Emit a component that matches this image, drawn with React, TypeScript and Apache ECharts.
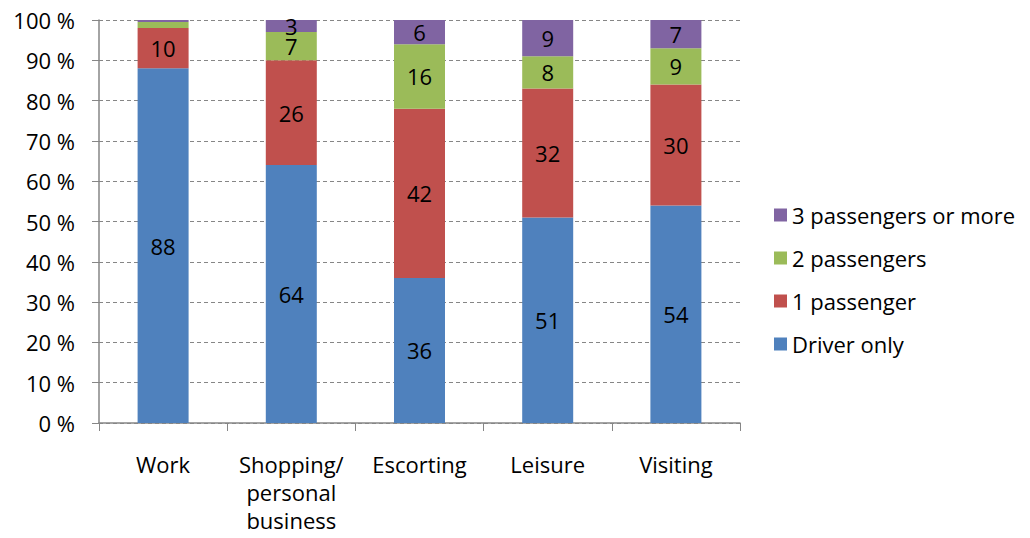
import React, { useEffect, useRef } from "react";
import * as echarts from "echarts";

const categories = ["Work", "Shopping/\npersonal\nbusiness", "Escorting", "Leisure", "Visiting"];
const driverOnly = [88, 64, 36, 51, 54];
const onePassenger = [10, 26, 42, 32, 30];
const twoPassengers = [1.5, 7, 16, 8, 9];
const threePlus = [0.5, 3, 6, 9, 7];
const legendOrder = ["3 passengers or more", "2 passengers", "1 passenger", "Driver only"];

const FONT = "'Open Sans', 'Noto Sans', sans-serif";
const FS = 22;

export default function App() {
  const ref = useRef<HTMLDivElement>(null);
  useEffect(() => {
    if (!ref.current) return;
    const chart = echarts.init(ref.current, undefined, { renderer: "svg" });
    const label = {
      show: true,
      position: "inside",
      color: "#000",
      fontSize: FS,
      lineHeight: 19,
      fontFamily: FONT,
      formatter: (p: any) => (p.value >= 2 ? String(p.value) : ""),
    };
    const mk = (name: string, data: number[], color: string) => ({
      name,
      type: "bar",
      stack: "total",
      data,
      barWidth: 51,
      itemStyle: { color },
      label,
    });
    chart.setOption({
      animation: false,
      textStyle: { fontFamily: FONT },
      grid: {
        left: 99,
        right: 290,
        top: 20,
        bottom: 115,
        containLabel: false,
        outerBoundsMode: "none",
      },
      legend: {
        data: legendOrder,
        orient: "vertical",
        left: 769,
        top: 199,
        itemWidth: 13,
        itemHeight: 13,
        itemGap: 21,
        icon: "rect",
        textStyle: { fontSize: FS, color: "#000", fontFamily: FONT },
      },
      xAxis: {
        type: "category",
        data: categories,
        axisLine: { lineStyle: { color: "#868686", width: 1.5 } },
        axisTick: { show: true, length: 8, lineStyle: { color: "#868686" } },
        axisLabel: {
          color: "#000",
          fontSize: FS,
          fontFamily: FONT,
          margin: 27,
          lineHeight: 28,
          interval: 0,
        },
      },
      yAxis: {
        type: "value",
        min: 0,
        max: 100,
        interval: 10,
        axisLine: { show: true, lineStyle: { color: "#868686", width: 1.5 } },
        axisTick: { show: true, length: 7, lineStyle: { color: "#868686" } },
        splitLine: { show: true, lineStyle: { color: "#868686", type: [4, 3], width: 1 } },
        axisLabel: {
          color: "#000",
          fontSize: FS,
          fontFamily: FONT,
          margin: 24,
          formatter: (v: number) => `${v} %`,
        },
      },
      series: [
        mk("Driver only", driverOnly, "#4F81BD"),
        mk("1 passenger", onePassenger, "#C0504D"),
        mk("2 passengers", twoPassengers, "#9BBB59"),
        mk("3 passengers or more", threePlus, "#8064A2"),
      ],
    });
    return () => chart.dispose();
  }, []);
  return (
    <div
      ref={ref}
      style={{ position: "fixed", left: 0, top: 0, width: 1030, height: 538, background: "#fff" }}
    />
  );
}
